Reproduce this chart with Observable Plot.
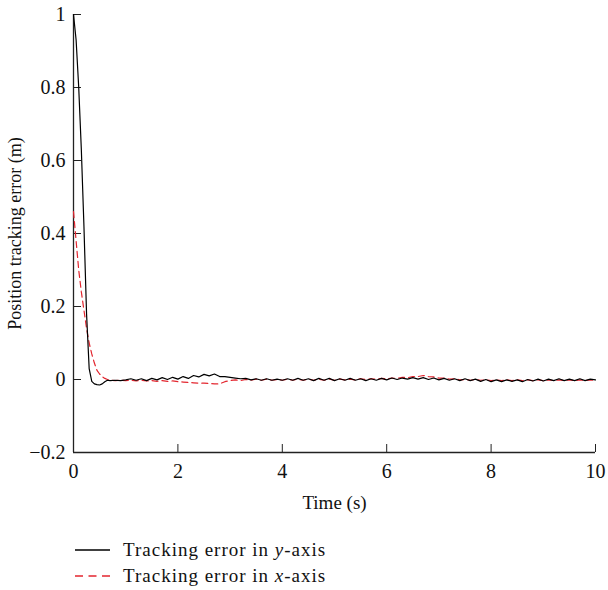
<!DOCTYPE html>
<html>
<head>
<meta charset="utf-8">
<script src="https://cdn.jsdelivr.net/npm/d3@7"></script>
<script src="https://cdn.jsdelivr.net/npm/@observablehq/plot@0.6"></script>
<style>
  body { margin: 0; background: #fff; font-family: "Liberation Serif", serif; }
  #legend { position: relative; height: 70px; font-size: 19px; letter-spacing: 1px; color: #111; }
  .row { position: absolute; left: 75px; height: 20px; line-height: 20px; display: flex; align-items: center; }
  .row svg { margin-right: 13px; }
</style>
</head>
<body>
<div id="chart"></div>
<div id="legend">
  <div class="row" style="top:20px"><svg width="35" height="4"><line x1="0" x2="35" y1="2" y2="2" stroke="#000" stroke-width="1.3"/></svg><span>Tracking error in <i>y</i>-axis</span></div>
  <div class="row" style="top:46px"><svg width="35" height="4"><line x1="0" x2="35" y1="2" y2="2" stroke="#e3262f" stroke-width="1.3" stroke-dasharray="8,5.5"/></svg><span>Tracking error in <i>x</i>-axis</span></div>
</div>
<script>
const time = [0, 0.05, 0.1, 0.15, 0.2, 0.25, 0.3, 0.35, 0.4, 0.45, 0.5, 0.55, 0.6, 0.65, 0.7, 0.8, 0.9, 1.0,
  1.1, 1.2, 1.3, 1.4, 1.5, 1.6, 1.7, 1.8, 1.9, 2.0, 2.1, 2.2, 2.3, 2.4, 2.5, 2.6, 2.7, 2.8, 2.9, 3.0,
  3.1, 3.2, 3.3, 3.4, 3.5, 3.6, 3.7, 3.8, 3.9, 4.0, 4.1, 4.2, 4.3, 4.4, 4.5, 4.6, 4.7, 4.8, 4.9, 5.0,
  5.1, 5.2, 5.3, 5.4, 5.5, 5.6, 5.7, 5.8, 5.9, 6.0, 6.1, 6.2, 6.3, 6.4, 6.5, 6.6, 6.7, 6.8, 6.9, 7.0,
  7.1, 7.2, 7.3, 7.4, 7.5, 7.6, 7.7, 7.8, 7.9, 8.0, 8.1, 8.2, 8.3, 8.4, 8.5, 8.6, 8.7, 8.8, 8.9, 9.0,
  9.1, 9.2, 9.3, 9.4, 9.5, 9.6, 9.7, 9.8, 9.9, 10.0];

const errorY = [1.0, 0.93, 0.8, 0.63, 0.42, 0.18, 0.03, -0.005, -0.012, -0.014, -0.015, -0.012, -0.006, -0.002, -0.003, -0.002, -0.003, -0.001,
  0.002, -0.002, 0.002, -0.003, 0.003, -0.001, 0.005, 0.0, 0.006, 0.001, 0.008, 0.003, 0.011, 0.007, 0.014, 0.01, 0.015, 0.008, 0.008, 0.006,
  0.004, 0.002, 0.003, -0.001, 0.002, -0.002, 0.002, -0.002, 0.001, -0.002, 0.002, -0.002, 0.003, -0.002, 0.002, -0.003, 0.003, -0.002, 0.003, -0.003,
  0.002, -0.002, 0.003, -0.002, 0.002, -0.003, 0.002, -0.002, 0.003, -0.001, 0.004, 0.0, 0.004, 0.001, 0.005, 0.001, 0.005, 0.0, 0.004, -0.001,
  0.003, -0.002, 0.002, -0.003, 0.002, -0.003, 0.001, -0.005, 0.0, -0.006, -0.001, -0.006, -0.001, -0.005, -0.001, -0.006, 0.0, -0.004, 0.001, -0.004,
  0.001, -0.003, 0.002, -0.003, 0.001, -0.003, 0.002, -0.003, 0.001, -0.001];

const errorX = [0.46, 0.38, 0.3, 0.24, 0.19, 0.14, 0.1, 0.07, 0.045, 0.025, 0.015, 0.008, 0.003, 0.0, -0.002, -0.003, -0.002, -0.003,
  -0.002, -0.004, -0.002, -0.004, -0.003, -0.005, -0.003, -0.005, -0.004, -0.006, -0.007, -0.008, -0.009, -0.01, -0.01, -0.011, -0.012, -0.012, -0.006, -0.003,
  -0.001, -0.003, 0.0, -0.002, 0.001, -0.002, 0.001, -0.002, 0.0, -0.002, 0.001, -0.002, 0.001, -0.002, 0.001, -0.002, 0.001, -0.002, 0.001, -0.002,
  0.001, -0.001, 0.001, -0.001, 0.002, 0.0, 0.002, 0.001, 0.003, 0.002, 0.004, 0.003, 0.006, 0.005, 0.008, 0.008, 0.011, 0.008, 0.007, 0.004,
  0.004, 0.001, 0.002, -0.001, 0.0, -0.002, 0.0, -0.002, -0.001, -0.003, -0.001, -0.003, -0.001, -0.003, -0.001, -0.003, -0.001, -0.003, -0.001, -0.003,
  -0.001, -0.003, -0.001, -0.003, -0.001, -0.003, -0.001, -0.003, -0.001, -0.002];

const xTicks = [0, 2, 4, 6, 8, 10];
const yTicks = [-0.2, 0, 0.2, 0.4, 0.6, 0.8, 1];

const rows = time.map((t, i) => ({t, ey: errorY[i], ex: errorX[i]}));

const fmtY = d => d === 0 ? "0" : (d < 0 ? "\u2212" + Math.abs(d) : String(d));

const chart = Plot.plot({
  width: 608,
  height: 520,
  marginLeft: 73,
  marginRight: 13,
  marginTop: 14,
  marginBottom: 68,
  style: {fontFamily: "'Liberation Serif', serif", fontSize: "20px", color: "#111", background: "#fff"},
  x: {domain: [0, 10]},
  y: {domain: [-0.2, 1]},
  marks: [
    Plot.axisX(xTicks, {tickSize: -8, tickPadding: 19, fontSize: 20, label: null, stroke: "#222"}),
    Plot.axisY(yTicks, {tickSize: -8, tickPadding: 16, fontSize: 20, tickFormat: fmtY, label: null, stroke: "#222"}),
    Plot.axisX({ticks: [], tickSize: 0, label: "Time (s)", labelAnchor: "center", labelArrow: "none", labelOffset: 56, fontSize: 19, style: {letterSpacing: "0.5px"}}),
    Plot.axisY({ticks: [], tickSize: 0, label: "Position tracking error (m)", labelAnchor: "center", labelArrow: "none", labelOffset: 65, fontSize: 18}),
    Plot.ruleX([0], {stroke: "#222", strokeWidth: 1.3}),
    Plot.ruleY([-0.2], {stroke: "#222", strokeWidth: 1.3}),
    Plot.line(rows, {x: "t", y: "ex", stroke: "#e3262f", strokeWidth: 1.2, strokeDasharray: "6,4"}),
    Plot.line(rows, {x: "t", y: "ey", stroke: "#000", strokeWidth: 1.2})
  ]
});
document.getElementById("chart").appendChild(chart);
</script>
</body>
</html>
